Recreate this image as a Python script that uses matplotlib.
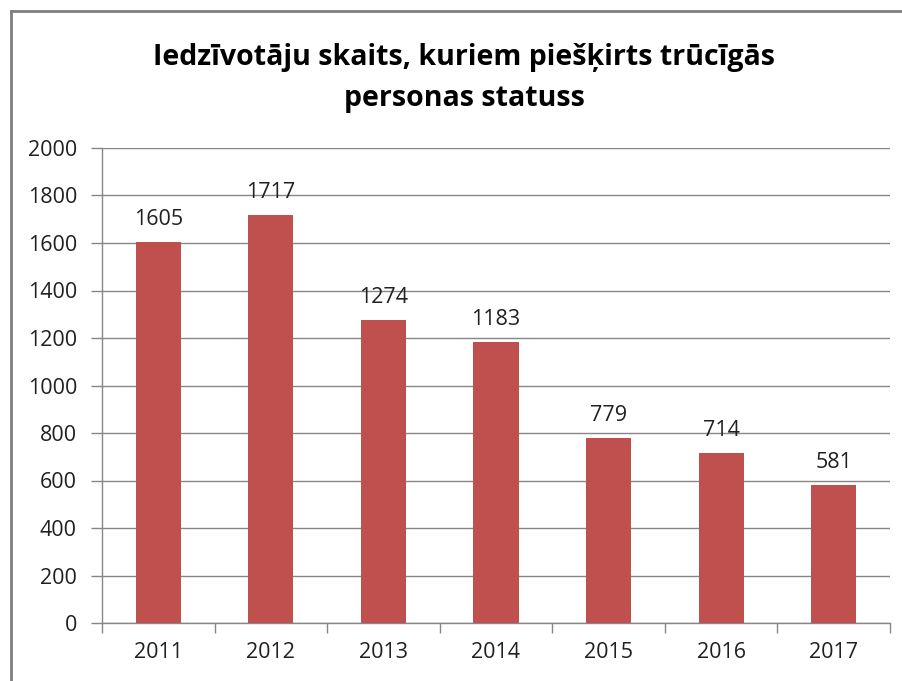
import numpy as np
import matplotlib.pyplot as plt
from matplotlib.lines import Line2D

plt.rcParams['font.family'] = ['Open Sans', 'DejaVu Sans']

years = ['2011', '2012', '2013', '2014', '2015', '2016', '2017']
counts = [1605, 1717, 1274, 1183, 779, 714, 581]
yticks = [0, 200, 400, 600, 800, 1000, 1200, 1400, 1600, 1800, 2000]

W, H = 902, 681
fig = plt.figure(figsize=(W / 100, H / 100), dpi=100)
ax = fig.add_axes([102 / W, 1 - 623 / H, (890 - 102) / W, (623 - 148) / H])

x = np.arange(len(years))
bars = ax.bar(x, counts, width=0.4, color='#C0504D', zorder=3)

for xi, v in zip(x, counts):
    ax.text(xi, v + 72, str(v), ha='center', va='baseline', fontsize=15.5, color='#202020')

ax.set_xlim(-0.5, len(years) - 0.5)
ax.set_ylim(0, 2000)
ax.set_yticks(yticks)
ax.set_yticklabels([str(t) for t in yticks])
ax.set_xticks(x)
ax.set_xticklabels(years)
ax.tick_params(axis='both', labelsize=15.5, colors='#202020')
ax.tick_params(axis='y', length=8, width=1, color='#868686', pad=10)
ax.tick_params(axis='x', length=0, pad=14)
# category boundary ticks
ax.set_xticks(np.arange(-0.5, len(years)), minor=True)
ax.tick_params(axis='x', which='minor', length=7, width=1, color='#868686')

ax.grid(axis='y', color='#868686', linewidth=1, zorder=0)
for s in ['top', 'right']:
    ax.spines[s].set_visible(False)
for s in ['left', 'bottom']:
    ax.spines[s].set_color('#868686')
    ax.spines[s].set_linewidth(1)

fig.text(464 / W, 1 - 78 / H, 'Iedzīvotāju skaits, kuriem piešķirts trūcīgās\npersonas statuss',
         ha='center', va='center', fontsize=20.5, fontweight='bold', linespacing=1.55, color='black')

# chart frame (top and left edges visible)
fig.add_artist(Line2D([11 / W, 11 / W], [0, 1 - 11 / H], color='#7F7F7F', linewidth=2))
fig.add_artist(Line2D([11 / W, 1], [1 - 11 / H, 1 - 11 / H], color='#7F7F7F', linewidth=2))

fig.savefig('out.png', dpi=100)
